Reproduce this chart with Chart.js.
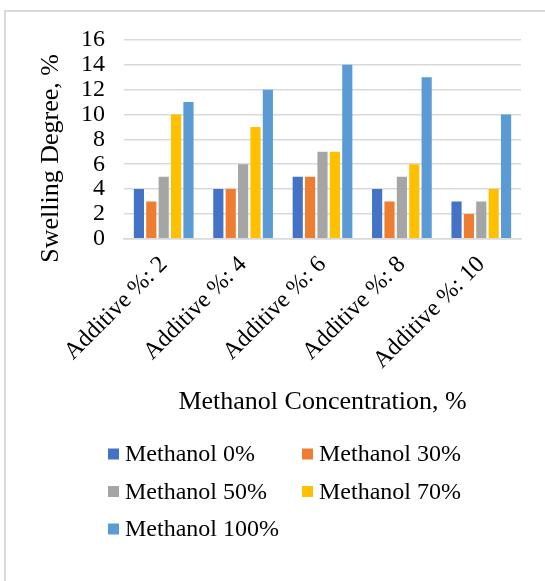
<!DOCTYPE html>
<html>
<head>
<meta charset="utf-8">
<script src="https://cdn.jsdelivr.net/npm/chart.js@4.4.1/dist/chart.umd.min.js"></script>
<style>
  html, body { margin: 0; padding: 0; background: #fff; }
  #wrap { position: relative; width: 545px; height: 581px; overflow: hidden; }
  #frame { position: absolute; left: 4px; top: 10px; right: -10px; bottom: -10px;
           border-top: 2px solid #d9d9d9; border-left: 2px solid #d9d9d9; pointer-events: none; }
  canvas { position: absolute; left: 0; top: 0; }
</style>
</head>
<body>
<div id="wrap">
  <canvas id="chart" width="545" height="581"></canvas>
  <div id="frame"></div>
</div>
<script>
// Categories along the x axis
const categories = ["Additive %: 2", "Additive %: 4", "Additive %: 6", "Additive %: 8", "Additive %: 10"];

// Swelling degree (%) for each methanol concentration
const methanol0   = [4, 4, 5, 4, 3];
const methanol30  = [3, 4, 5, 3, 2];
const methanol50  = [5, 6, 7, 5, 3];
const methanol70  = [10, 9, 7, 6, 4];
const methanol100 = [11, 12, 14, 13, 10];

const seriesNames = ["Methanol 0%", "Methanol 30%", "Methanol 50%", "Methanol 70%", "Methanol 100%"];
const seriesValues = [methanol0, methanol30, methanol50, methanol70, methanol100];
const seriesColors = ["#4472C4", "#ED7D31", "#A5A5A5", "#FFC000", "#5B9BD5"];

// Y axis ticks
const yTicks = [0, 2, 4, 6, 8, 10, 12, 14, 16];

const yTitle = "Swelling Degree, %";
const FONT = "'Liberation Serif', 'Times New Roman', serif";

// Vertical y-axis title and two-column legend under the chart
const extras = {
  id: 'extras',
  afterDraw(chart) {
    const ctx = chart.ctx;
    const area = chart.chartArea;
    ctx.save();
    ctx.fillStyle = '#000';
    ctx.font = "26px " + FONT;
    ctx.textAlign = 'center';
    ctx.textBaseline = 'middle';
    ctx.translate(51, (area.top + area.bottom) / 2 + 19);
    ctx.rotate(-Math.PI / 2);
    ctx.fillText(yTitle, 0, 0);
    ctx.restore();

    const colX = [108, 302];
    const rowY0 = 454, rowStep = 37.5, box = 11;
    ctx.save();
    ctx.font = "24px " + FONT;
    ctx.textBaseline = 'middle';
    ctx.textAlign = 'left';
    chart.data.datasets.forEach((ds, i) => {
      const x = colX[i % 2];
      const y = rowY0 + Math.floor(i / 2) * rowStep;
      ctx.fillStyle = ds.backgroundColor;
      ctx.fillRect(x, y - box / 2, box, box);
      ctx.fillStyle = '#000';
      ctx.fillText(ds.label, x + 17, y + 1);
    });
    ctx.restore();
  }
};

new Chart(document.getElementById('chart'), {
  type: 'bar',
  data: {
    labels: categories,
    datasets: seriesNames.map((name, i) => ({
      label: name,
      data: seriesValues[i],
      backgroundColor: seriesColors[i],
      borderWidth: 0,
      barPercentage: 0.82,
      categoryPercentage: 0.78
    }))
  },
  options: {
    responsive: false,
    animation: false,
    devicePixelRatio: 1,
    layout: { padding: { left: 62, right: 24, top: 40, bottom: 155 } },
    plugins: {
      legend: { display: false },
      tooltip: { enabled: false }
    },
    scales: {
      x: {
        grid: { display: false },
        border: { display: true, color: '#d9d9d9', width: 1.5 },
        ticks: {
          color: '#000',
          font: { family: FONT, size: 24 },
          minRotation: 45,
          maxRotation: 45,
          autoSkip: false,
          padding: 4
        },
        title: {
          display: true,
          text: 'Methanol Concentration, %',
          color: '#000',
          font: { family: FONT, size: 26 },
          padding: { top: 8, bottom: 8 }
        }
      },
      y: {
        min: 0,
        max: 16,
        afterBuildTicks(axis) { axis.ticks = yTicks.map(v => ({ value: v })); },
        grid: { color: '#d9d9d9', lineWidth: 1.5, drawTicks: false },
        border: { display: false },
        ticks: {
          color: '#000',
          font: { family: FONT, size: 24 },
          autoSkip: false,
          padding: 19
        },
        title: { display: false }
      }
    }
  },
  plugins: [extras]
});
</script>
</body>
</html>
